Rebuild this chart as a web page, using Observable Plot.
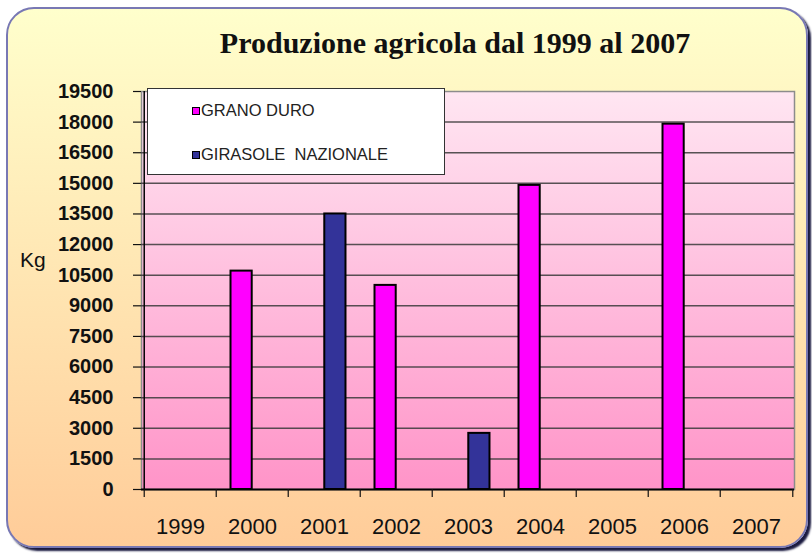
<!DOCTYPE html>
<html>
<head>
<meta charset="utf-8">
<script src="https://cdn.jsdelivr.net/npm/d3@7"></script>
<script src="https://cdn.jsdelivr.net/npm/@observablehq/plot@0.6"></script>
<style>
  body { margin: 0; background: #fff; width: 812px; height: 556px; overflow: hidden; position: relative;
         font-family: "Liberation Sans", Arial, sans-serif; }
  #bg { position: absolute; left: 6px; top: 7px; width: 802px; height: 541px; box-sizing: border-box;
        border: 2px solid #7878b4; border-radius: 28px;
        background: linear-gradient(#FFFFCC, #FFCC99); box-shadow: 3px 3px 2px #1a1a40; }
  #chart { position: absolute; left: 0; top: 0; }
  #title { position: absolute; left: 49px; width: 812px; top: 28px; text-align: center;
           font-family: "Liberation Serif", "Times New Roman", serif; font-weight: bold;
           font-size: 30px; line-height: 30px; color: #111; }
  #kg { position: absolute; left: 20px; top: 249px; font-size: 21px; line-height: 21px; color: #111; }
  #legend { position: absolute; left: 147px; top: 88px; width: 298px; height: 87px; box-sizing: border-box;
            background: #fff; border: 1.5px solid #333; }
  .item { position: absolute; left: 44px; font-size: 16.5px; line-height: 16.5px; color: #222; white-space: pre; }
  .sw { display: inline-block; width: 6px; height: 6px; border: 1px solid #000; margin-right: 1px;
        vertical-align: 1px; }
</style>
</head>
<body>
<div id="bg"></div>
<div id="chart"></div>
<div id="title">Produzione agricola dal 1999 al 2007</div>
<div id="kg">Kg</div>
<div id="legend"></div>
<script>
const years = ["1999", "2000", "2001", "2002", "2003", "2004", "2005", "2006", "2007"];
const granoDuro = [null, 10700, null, 10000, null, 14900, null, 17900, null];
const girasole = [null, null, 13500, null, 2750, null, null, null, null];
const yTicks = [0, 1500, 3000, 4500, 6000, 7500, 9000, 10500, 12000, 13500, 15000, 16500, 18000, 19500];
const seriesNames = ["GRANO DURO", "GIRASOLE  NAZIONALE"];
const seriesColors = ["#FF00FF", "#333399"];

const granoData = years.map((year, i) => ({year, value: granoDuro[i]})).filter(d => d.value != null);
const girasoleData = years.map((year, i) => ({year, value: girasole[i]})).filter(d => d.value != null);

const W = 812, H = 556, mL = 141, mR = 18, mT = 91, mB = 67;
const step = (W - mL - mR) / years.length;

const chart = Plot.plot({
  width: W, height: H,
  marginLeft: mL, marginRight: mR, marginTop: mT, marginBottom: mB,
  style: {background: "transparent", fontFamily: "Liberation Sans, Arial, sans-serif", overflow: "visible", color: "#111"},
  x: {domain: years, padding: 0, axis: null},
  y: {domain: [0, 19500], axis: null},
  marks: [
    Plot.frame({fill: "url(#plotGrad)", stroke: "#8c8c8c", strokeWidth: 1.5}),
    Plot.gridY(yTicks.slice(1, -1), {stroke: "#3a3a3a", strokeOpacity: 0.85, strokeWidth: 1.5}),
    Plot.barY(granoData, {x: "year", y: "value", fill: seriesColors[0], stroke: "#000", strokeWidth: 2,
      insetLeft: step * 0.2, insetRight: step * 0.5}),
    Plot.barY(girasoleData, {x: "year", y: "value", fill: seriesColors[1], stroke: "#000", strokeWidth: 2,
      insetLeft: step * 0.5, insetRight: step * 0.2}),
    Plot.ruleY([0], {stroke: "#000", strokeWidth: 2}),
    Plot.ruleX([years[0]], {dx: -step / 2, stroke: "#000", strokeWidth: 1.5}),
    Plot.axisY({ticks: yTicks, tickSize: 8, tickPadding: 20, fontSize: 20, fontWeight: "bold",
      strokeWidth: 1.2, label: null, tickFormat: d => String(d)}),
    Plot.axisX({ticks: years, tickSize: 0, tickPadding: 29, fontSize: 22, label: null}),
    Plot.axisX({ticks: years, tickSize: 8, tickFormat: () => "", dx: -step / 2, strokeWidth: 1.2, label: null}),
    Plot.axisX({ticks: [years[years.length - 1]], tickSize: 8, tickFormat: () => "", dx: step / 2, strokeWidth: 1.2, label: null})
  ]
});

d3.select(chart).insert("defs", ":first-child").html(
  `<linearGradient id="plotGrad" x1="0" y1="0" x2="0" y2="1">
     <stop offset="0" stop-color="#FFE6F2"/>
     <stop offset="1" stop-color="#FF94C8"/>
   </linearGradient>`);
document.getElementById("chart").appendChild(chart);

const legend = d3.select("#legend");
seriesNames.forEach((name, i) => {
  const item = legend.append("div").attr("class", "item").style("top", (13 + i * 44) + "px");
  item.append("span").attr("class", "sw").style("background", seriesColors[i]);
  item.append("span").text(name);
});
</script>
</body>
</html>
